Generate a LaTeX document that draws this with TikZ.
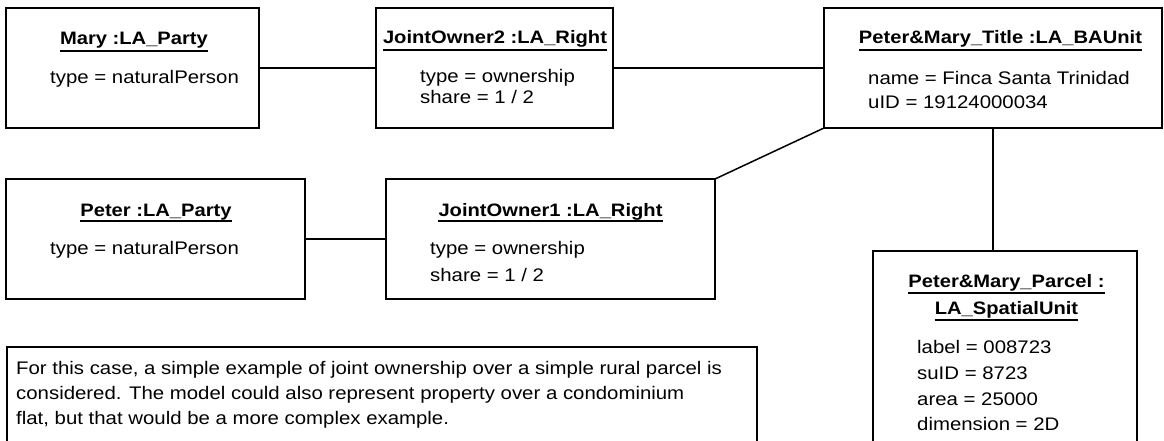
\documentclass[tikz,border=0pt]{standalone}
\usepackage{fontspec}
\setmainfont{Liberation Sans}[FakeStretch=1.12]
\begin{document}
\begin{tikzpicture}[x=1pt,y=-1pt,
  box/.style={draw,line width=1.8pt,inner sep=0pt,outer sep=0pt,anchor=north west},
  conn/.style={line width=1.5pt},
  ttl/.style={font=\bfseries\fontsize{18}{22}\selectfont,anchor=base,inner sep=0pt},
  att/.style={font=\fontsize{18.2}{22}\selectfont,anchor=base west,inner sep=0pt},
  ul/.style={line width=1.5pt}]
\clip (0,0) rectangle (1164,441);
% boxes
\node[box,minimum width=253pt,minimum height=120pt] (mary) at (6,8) {};
\node[box,minimum width=237pt,minimum height=120pt] (jo2) at (376,8) {};
\node[box,minimum width=338pt,minimum height=120pt] (title) at (824,8) {};
\node[box,minimum width=299pt,minimum height=120pt] (peter) at (6,179) {};
\node[box,minimum width=329pt,minimum height=120pt] (jo1) at (386,179) {};
\node[box,minimum width=264pt,minimum height=220pt] (parcel) at (873,251) {};
\node[box,minimum width=750pt,minimum height=130pt] (note) at (7,347) {};
% connectors
\draw[conn] (mary.east) -- (jo2.west);
\draw[conn] (jo2.east) -- (title.west);
\draw[conn] (title.south west) -- (jo1.north east);
\draw[conn] (title.south) -- (title.south |- parcel.north);
\draw[conn] (peter.east) -- (jo1.west);
% Mary
\node[ttl] (maryT) at (134,45) {Mary :LA\_Party};
\draw[ul] ([yshift=-6pt]maryT.base west) -- ([yshift=-6pt]maryT.base east);
\node[att] (maryA) at (50,84) {type = naturalPerson};
% JointOwner2
\node[ttl] (jo2T) at (495,44) {JointOwner2 :LA\_Right};
\draw[ul] ([yshift=-6pt]jo2T.base west) -- ([yshift=-6pt]jo2T.base east);
\node[att] (jo2A) at (420,83) {type = ownership};
\node[att] (jo2B) at (420,104) {share = 1 / 2};
% Title
\node[ttl] (titleT) at (1000.5,44) {Peter\&Mary\_Title :LA\_BAUnit};
\draw[ul] ([yshift=-6pt]titleT.base west) -- ([yshift=-6pt]titleT.base east);
\node[att] (titleA) at (868,85) {name = Finca Santa Trinidad};
\node[att] (titleB) at (868,109) {uID = 19124000034};
% Peter
\node[ttl] (peterT) at (156,216) {Peter :LA\_Party};
\draw[ul] ([yshift=-5pt]peterT.base west) -- ([yshift=-5pt]peterT.base east);
\node[att] (peterA) at (50,254) {type = naturalPerson};
% JointOwner1
\node[ttl] (jo1T) at (550.5,216) {JointOwner1 :LA\_Right};
\draw[ul] ([yshift=-5pt]jo1T.base west) -- ([yshift=-5pt]jo1T.base east);
\node[att] (jo1A) at (430,254) {type = ownership};
\node[att] (jo1B) at (430,281) {share = 1 / 2};
% Parcel
\node[ttl] (parT1) at (1006.5,287) {Peter\&Mary\_Parcel :};
\draw[ul] ([yshift=-6pt]parT1.base west) -- ([yshift=-6pt]parT1.base east);
\node[ttl] (parT2) at (1006.5,314) {LA\_SpatialUnit};
\draw[ul] ([yshift=-6pt]parT2.base west) -- ([yshift=-6pt]parT2.base east);
\node[att] (parA) at (917,353) {label = 008723};
\node[att] (parB) at (917,379) {suID = 8723};
\node[att] (parC) at (917,405) {area = 25000};
\node[att] (parD) at (917,430) {dimension = 2D};
% Note
\node[att] (noteA) at (16,374) {For this case, a simple example of joint ownership over a simple rural parcel is};
\node[att] (noteB) at (16,399) {considered. The model could also represent property over a condominium};
\node[att] (noteC) at (16,424) {flat, but that would be a more complex example.};
\end{tikzpicture}
\end{document}
